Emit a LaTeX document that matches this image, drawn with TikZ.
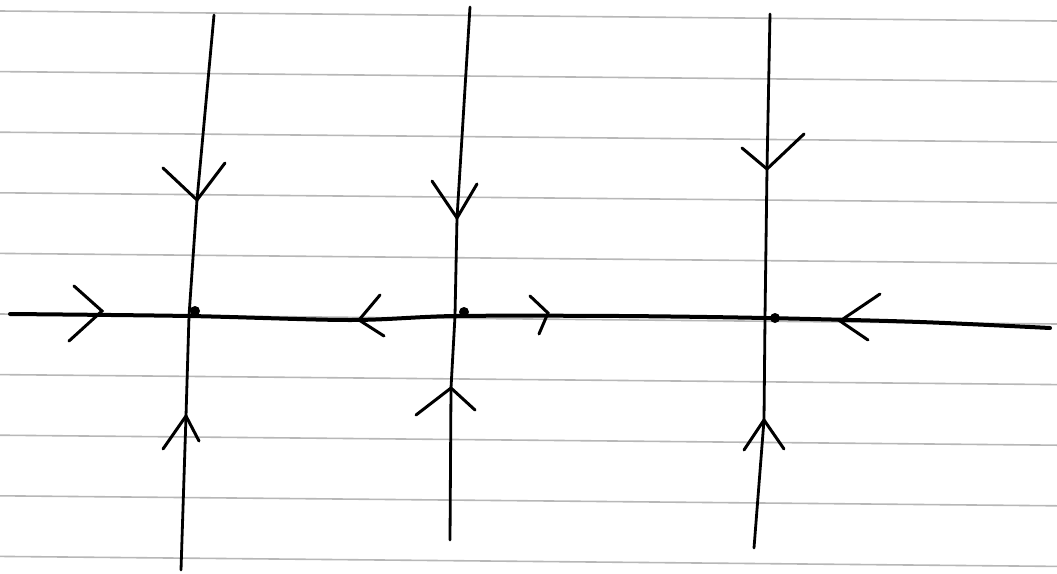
\documentclass[tikz,border=0pt]{standalone}
\usepackage{tikz}

\begin{document}
\begin{tikzpicture}[
    x=1pt, y=-1pt,
    rule/.style={draw=black!28, line width=1.6pt},
    axis/.style={line width=4pt, line cap=round, line join=round},
    traj/.style={line width=2.8pt, line cap=round, line join=round},
    chev/.style={line width=3pt, line cap=round, line join=miter},
    fixdot/.style={fill=black}
]
    \useasboundingbox (0,0) rectangle (1057,573);
    \fill[white] (0,0) rectangle (1057,573);

    % ruled paper
    \foreach \k in {0,...,9}
        \draw[rule] (0,{11+60.6*\k}) -- (1057,{21+60.6*\k});

    % points on the axis
    \coordinate (axL) at (10,314);
    \coordinate (fp1) at (189,316);
    \coordinate (fp2) at (455,316);
    \coordinate (fp3) at (765,318);
    \coordinate (axR) at (1050,328);

    % vertical lines
    \coordinate (top1) at (214,15);
    \coordinate (bot1) at (181,570);
    \coordinate (top2) at (470,7);
    \coordinate (bot2) at (450,540);
    \coordinate (top3) at (770,14);
    \coordinate (bot3) at (754,548);

    % arrow tips
    \coordinate (d1) at (197,200);
    \coordinate (u1) at (186,416);
    \coordinate (d2) at (457,218);
    \coordinate (u2) at (451,388);
    \coordinate (d3) at (767,169);
    \coordinate (u3) at (764,420);
    \coordinate (h1) at (102,311);
    \coordinate (h2) at (359,320);
    \coordinate (h3) at (548,313);
    \coordinate (h4) at (840,321);

    \draw[axis] plot[smooth, tension=0.5] coordinates
        {(axL) (fp1) (350,320) (fp2) (620,316) (fp3) (920,322) (axR)};

    \draw[traj] (top1) -- (d1) -- (fp1) -- (u1) -- (bot1);
    \draw[traj] (top2) -- (d2) -- (fp2) -- (u2) -- (bot2);
    \draw[traj] (top3) -- (d3) -- (fp3) -- (u3) -- (bot3);

    \fill[fixdot] (195,311) circle (5);
    \fill[fixdot] (464,312) circle (5);
    \fill[fixdot] (775,318) circle (5);

    % chevrons
    \draw[chev] (d1) +(-34,-32) -- (d1) -- +(28,-37);
    \draw[chev] (u1) +(-23,33) -- (u1) -- +(13,25);
    \draw[chev] (d2) +(-25,-37) -- (d2) -- +(20,-34);
    \draw[chev] (u2) +(-35,27) -- (u2) -- +(24,22);
    \draw[chev] (d3) +(-25,-21) -- (d3) -- +(37,-35);
    \draw[chev] (u3) +(-20,30) -- (u3) -- +(20,29);
    \draw[chev] (h1) +(-28,-25) -- (h1) -- +(-33,30);
    \draw[chev] (h2) +(21,-25) -- (h2) -- +(25,16);
    \draw[chev] (h3) +(-18,-17) -- (h3) -- +(-9,21);
    \draw[chev] (h4) +(40,-27) -- (h4) -- +(28,19);
\end{tikzpicture}
\end{document}
